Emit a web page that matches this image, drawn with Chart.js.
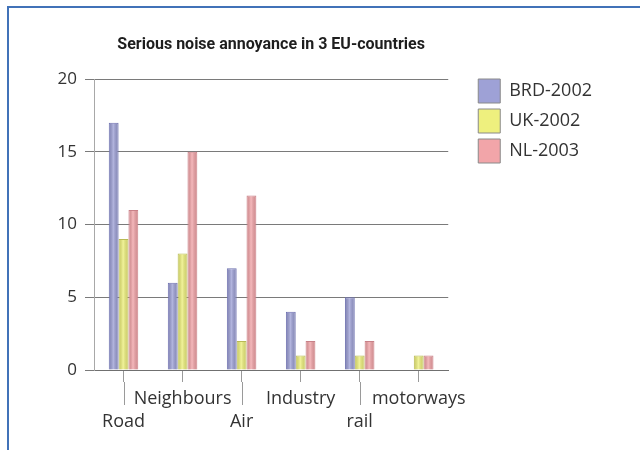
<!DOCTYPE html>
<html>
<head>
<meta charset="utf-8">
<script src="https://cdn.jsdelivr.net/npm/chart.js@4.4.0/dist/chart.umd.min.js"></script>
<style>
    body { margin: 0; background: #fff; }
    #frame { position: absolute; left: 7px; top: 6px; width: 640px; height: 450px;
             border-top: 2px solid #4172b8; border-left: 2px solid #4172b8; }
    #wrap { position: absolute; left: 0; top: 0; width: 640px; height: 450px; }
</style>
</head>
<body>
<div id="frame"></div>
<div id="wrap"><canvas id="noiseChart"></canvas></div>
<script>
// Chart data
const categories = ['Road', 'Neighbours', 'Air', 'Industry', 'rail', 'motorways'];
const seriesNames = ['BRD-2002', 'UK-2002', 'NL-2003'];
const brd2002 = [17, 6, 7, 4, 5, 0];
const uk2002 = [9, 8, 2, 1, 1, 1];
const nl2003 = [11, 15, 12, 2, 2, 1];
const yTicks = [0, 5, 10, 15, 20];

const fillColors = ['#9ea1d6', '#eef07e', '#f2a5a9'];
const edgeColors = ['#6f72b0', '#b9ba55', '#c98188'];

const ctx = document.getElementById('noiseChart').getContext('2d');

// Draws the long tick lines under the lower (staggered) category labels
const longTicks = {
    id: 'longTicks',
    afterDraw(chart) {
        const xs = chart.scales.x;
        const c = chart.ctx;
        c.save();
        c.strokeStyle = '#9a9a9a';
        c.lineWidth = 1;
        xs.ticks.forEach((t, i) => {
            if (i % 2 !== 0) return;
            const px = Math.round(xs.getPixelForTick(i)) + 0.5;
            c.beginPath();
            c.moveTo(px, xs.top + 12);
            c.lineTo(px, xs.top + 35);
            c.stroke();
        });
        c.restore();
    }
};

// Adds a soft cylinder-like shading over each bar
const barShade = {
    id: 'barShade',
    afterDatasetsDraw(chart) {
        const c = chart.ctx;
        chart.data.datasets.forEach((ds, di) => {
            chart.getDatasetMeta(di).data.forEach(bar => {
                const { x, y, base, width } = bar.getProps(['x', 'y', 'base', 'width'], true);
                if (base - y < 2) return;
                const left = x - width / 2 + 1;
                const w = width - 2;
                const g = c.createLinearGradient(left, 0, left + w, 0);
                g.addColorStop(0, 'rgba(0,0,0,0.12)');
                g.addColorStop(0.45, 'rgba(255,255,255,0.22)');
                g.addColorStop(1, 'rgba(0,0,0,0.12)');
                c.save();
                c.fillStyle = g;
                c.fillRect(left, y + 1, w, base - y - 1);
                c.restore();
            });
        });
    }
};

// Moves the legend up to the top gridline and a little away from the plot
const legendNudge = {
    id: 'legendNudge',
    afterUpdate(chart) {
        const lg = chart.legend;
        lg.top -= 6;
        lg.bottom -= 6;
        lg.left += 24;
        lg.right += 24;
    }
};

new Chart(ctx, {
    type: 'bar',
    data: {
        labels: categories,
        datasets: [brd2002, uk2002, nl2003].map((values, i) => ({
            label: seriesNames[i],
            data: values,
            backgroundColor: fillColors[i],
            borderColor: edgeColors[i],
            borderWidth: 1,
            borderSkipped: 'bottom',
            barPercentage: 1,
            categoryPercentage: 0.5
        }))
    },
    options: {
        responsive: true,
        maintainAspectRatio: false,
        animation: false,
        layout: { padding: { left: 54, right: 62, top: 21, bottom: 18 } },
        plugins: {
            title: {
                display: true,
                fullSize: false,
                text: 'Serious noise annoyance in 3 EU-countries',
                color: '#1e1e1e',
                font: { family: 'Roboto', size: 16, weight: 'bold', lineHeight: 1.2 },
                padding: { top: 14, bottom: 24.8 }
            },
            legend: {
                position: 'right',
                align: 'start',
                fullSize: false,
                labels: {
                    boxWidth: 22,
                    boxHeight: 24,
                    padding: 6,
                    color: '#333',
                    font: { family: 'Open Sans', size: 18 },
                    generateLabels(chart) {
                        return Chart.defaults.plugins.legend.labels.generateLabels(chart)
                            .map(l => ({ ...l, strokeStyle: '#8a8a8a', lineWidth: 1 }));
                    }
                }
            },
            tooltip: { enabled: false }
        },
        scales: {
            x: {
                grid: { display: true, drawOnChartArea: false, offset: false, tickLength: 12, color: '#9a9a9a' },
                border: { color: '#707070' },
                ticks: {
                    color: '#333',
                    maxRotation: 0,
                    autoSkip: false,
                    padding: 5,
                    font: { family: 'Open Sans', size: 18, lineHeight: '23px' },
                    callback: (v, i) => i % 2 === 0 ? ['', categories[i]] : categories[i]
                },
                afterFit: s => { s.height = 62; }
            },
            y: {
                min: 0,
                max: 20,
                afterBuildTicks: s => { s.ticks = yTicks.map(v => ({ value: v })); },
                grid: { color: '#7a7a7a', tickLength: 9 },
                border: { color: '#a8a8a8' },
                ticks: {
                    color: '#333',
                    padding: 8,
                    font: { family: 'Open Sans', size: 17 }
                },
                afterFit: s => { s.width = 40; }
            }
        }
    },
    plugins: [longTicks, barShade, legendNudge]
});
</script>
</body>
</html>
